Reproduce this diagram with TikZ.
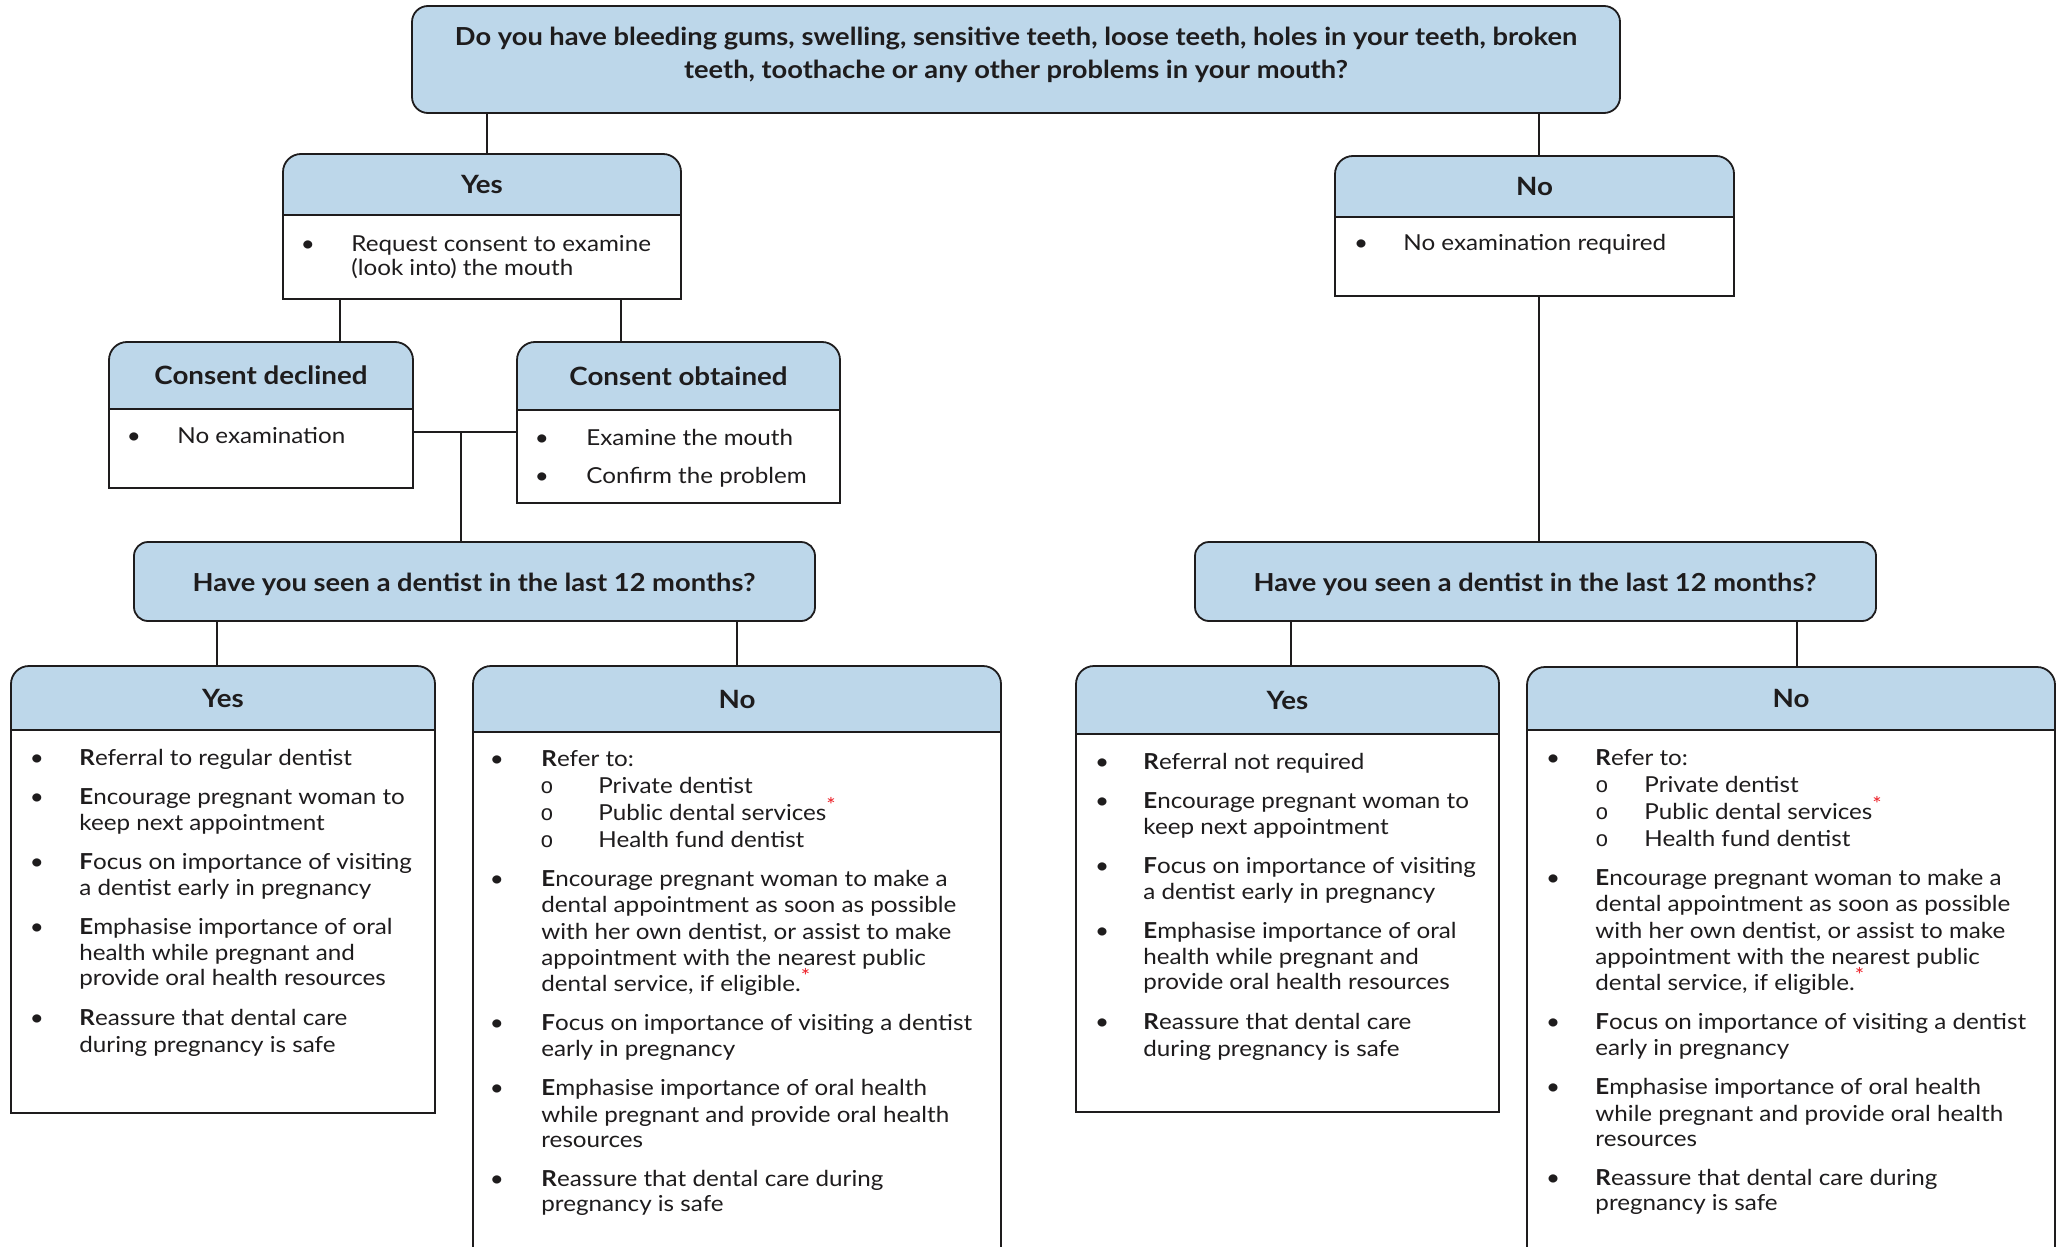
\documentclass[tikz,border=0pt]{standalone}
\usepackage{fontspec}
\setmainfont{Lato}[FakeStretch=1.1]
\newfontfamily\monof{Liberation Mono}
\usetikzlibrary{fit}
\definecolor{hdr}{RGB}{189,215,234}
\definecolor{ln}{RGB}{30,28,29}
\definecolor{ast}{RGB}{237,28,36}
\newcounter{tn}
\newcommand\Tl[3]{\stepcounter{tn}\node[txt] (t\arabic{tn}) at (#1,#2+7) {#3};}
\newcommand\Bu[2]{\stepcounter{tn}\node[bul] (t\arabic{tn}) at (#1,#2+7) {\textbullet};}
\newcommand\Ci[2]{\stepcounter{tn}\node[bul] (t\arabic{tn}) at (#1,#2+7) {\monof o};}
\newcommand\Bf[1]{\textbf{#1}}
\newcommand\Ast{\raisebox{0.32em}{\fontsize{10}{10}\selectfont\textcolor{ast}{*}}}
% header box: name, x1, y1, x2, ydiv, y2, title
\newcommand\MkBox[7]{%
  \filldraw[bx, fill=hdr, rounded corners=9pt] (#2,#3) rectangle (#4,#5+36);
  \filldraw[bx, fill=white] (#2,#5) rectangle (#4,#6);
  \node[fit={(#2,#3) (#4,#6)}, inner sep=0] (#1) {};
  \node[ttl] (#1-t) at ({(#2+#4)/2},{(#3+#5)/2}) {#7};}
% open-bottom header box
\newcommand\MkOpen[6]{%
  \filldraw[bx, fill=hdr, rounded corners=9pt] (#2,#3) rectangle (#4,#5+36);
  \fill[white] (#2,#5) rectangle (#4,1300);
  \draw[bx] (#2,1300) -- (#2,#5) -- (#4,#5) -- (#4,1300);
  \node[fit={(#2,#3) (#4,1246)}, inner sep=0] (#1) {};
  \node[ttl] (#1-t) at ({(#2+#4)/2},{(#3+#5)/2}) {#6};}
\newcommand\YesList[4]{%
  \Bu{#1}{#3}\Tl{#2}{#3}{#4}
  \Bu{#1}{#3+39}\Tl{#2}{#3+39}{\Bf{E}ncourage pregnant woman to}
  \Tl{#2}{#3+65}{keep next appointment}
  \Bu{#1}{#3+104}\Tl{#2}{#3+104}{\Bf{F}ocus on importance of visiting}
  \Tl{#2}{#3+130}{a dentist early in pregnancy}
  \Bu{#1}{#3+169}\Tl{#2}{#3+169}{\Bf{E}mphasise importance of oral}
  \Tl{#2}{#3+195}{health while pregnant and}
  \Tl{#2}{#3+220}{provide oral health resources}
  \Bu{#1}{#3+260}\Tl{#2}{#3+260}{\Bf{R}eassure that dental care}
  \Tl{#2}{#3+287}{during pregnancy is safe}}
\newcommand\NoList[5]{%
  \Bu{#1}{#5}\Tl{#2}{#5}{\Bf{R}efer to:}
  \Ci{#3}{#5+27}\Tl{#4}{#5+27}{Private dentist}
  \Ci{#3}{#5+54}\Tl{#4}{#5+54}{Public dental services\Ast}
  \Ci{#3}{#5+81}\Tl{#4}{#5+81}{Health fund dentist}
  \Bu{#1}{#5+120}\Tl{#2}{#5+120}{\Bf{E}ncourage pregnant woman to make a}
  \Tl{#2}{#5+146}{dental appointment as soon as possible}
  \Tl{#2}{#5+173}{with her own dentist, or assist to make}
  \Tl{#2}{#5+199}{appointment with the nearest public}
  \Tl{#2}{#5+225}{dental service, if eligible.\Ast}
  \Bu{#1}{#5+264}\Tl{#2}{#5+264}{\Bf{F}ocus on importance of visiting a dentist}
  \Tl{#2}{#5+290}{early in pregnancy}
  \Bu{#1}{#5+329}\Tl{#2}{#5+329}{\Bf{E}mphasise importance of oral health}
  \Tl{#2}{#5+356}{while pregnant and provide oral health}
  \Tl{#2}{#5+381}{resources}
  \Bu{#1}{#5+420}\Tl{#2}{#5+420}{\Bf{R}eassure that dental care during}
  \Tl{#2}{#5+445}{pregnancy is safe}}
\begin{document}
\begin{tikzpicture}[x=0.5pt,y=-0.5pt,
  bx/.style={draw=ln, line width=0.9pt},
  con/.style={draw=ln, line width=0.6pt},
  txt/.style={anchor=base west, inner sep=0, text=ln, font=\fontsize{11}{13}\selectfont},
  bul/.style={anchor=base, inner sep=0, text=ln, font=\fontsize{11}{13}\selectfont},
  ttl/.style={anchor=center, inner sep=0, text=ln, font=\bfseries\fontsize{12.6}{15}\selectfont},
  qst/.style={anchor=base, inner sep=0, text=ln, font=\bfseries\fontsize{12.4}{14}\selectfont}]
\path[use as bounding box, clip] (0,0) rectangle (2064,1246);
\fill[white] (0,0) rectangle (2064,1246);

% top question
\filldraw[bx, fill=hdr, rounded corners=8pt] (412,6) rectangle (1620,113);
\node[fit={(412,6) (1620,113)}, inner sep=0] (q) {};
\node[qst] (q1) at (1016,46) {Do you have bleeding gums, swelling, sensitive teeth, loose teeth, holes in your teeth, broken};
\node[qst] (q2) at (1016,79) {teeth, toothache or any other problems in your mouth?};

% first level
\MkBox{yesA}{283}{154}{681}{215}{299}{Yes}
\Bu{308}{244}\Tl{351}{244}{Request consent to examine}
\Tl{351}{268}{(look into) the mouth}

\MkBox{noA}{1335}{156}{1734}{217}{296}{No}
\Bu{1361}{243}\Tl{1403}{243}{No examination required}

% consent
\MkBox{decl}{109}{342}{413}{409}{488}{Consent declined}
\Bu{134}{436}\Tl{177}{436}{No examination}

\MkBox{obt}{517}{342}{840}{410}{503}{Consent obtained}
\Bu{542}{438}\Tl{586}{438}{Examine the mouth}
\Bu{542}{476}\Tl{586}{476}{Confirm the problem}

% dentist questions
\filldraw[bx, fill=hdr, rounded corners=7pt] (134,542) rectangle (815,621);
\node[fit={(134,542) (815,621)}, inner sep=0] (have1) {};
\node[qst] (have1-t) at (474,591) {Have you seen a dentist in the last 12 months?};

\filldraw[bx, fill=hdr, rounded corners=7pt] (1195,542) rectangle (1876,621);
\node[fit={(1195,542) (1876,621)}, inner sep=0] (have2) {};
\node[qst] (have2-t) at (1535,591) {Have you seen a dentist in the last 12 months?};

% bottom boxes
\MkBox{yesB}{11}{666}{435}{730}{1113}{Yes}
\YesList{37}{79}{758}{\Bf{R}eferral to regular dentist}

\MkOpen{noB}{473}{666}{1001}{732}{No}
\NoList{497}{541}{547}{598}{759}

\MkBox{yesC}{1076}{666}{1499}{734}{1112}{Yes}
\YesList{1102}{1143}{762}{\Bf{R}eferral not required}

\MkOpen{noC}{1527}{667}{2055}{730}{No}
\NoList{1553}{1595}{1602}{1644}{758}

% connectors
\coordinate (k1) at (487,0);
\coordinate (k2) at (1539,0);
\coordinate (k3) at (340,0);
\coordinate (k4) at (621,0);
\coordinate (k5) at (0,432);
\coordinate (k6) at (461,0);
\coordinate (k7) at (217,0);
\coordinate (k8) at (737,0);
\coordinate (k9) at (1291,0);
\coordinate (k10) at (1797,0);
\draw[con] (q.south -| k1) -- (yesA.north -| k1);
\draw[con] (q.south -| k2) -- (noA.north -| k2);
\draw[con] (yesA.south -| k3) -- (decl.north -| k3);
\draw[con] (yesA.south -| k4) -- (obt.north -| k4);
\draw[con] (decl.east |- k5) -- (obt.west |- k5);
\draw[con] (k6 |- k5) -- (have1.north -| k6);
\draw[con] (noA.south -| k2) -- (have2.north -| k2);
\draw[con] (have1.south -| k7) -- (yesB.north -| k7);
\draw[con] (have1.south -| k8) -- (noB.north -| k8);
\draw[con] (have2.south -| k9) -- (yesC.north -| k9);
\draw[con] (have2.south -| k10) -- (noC.north -| k10);
\end{tikzpicture}
\end{document}
